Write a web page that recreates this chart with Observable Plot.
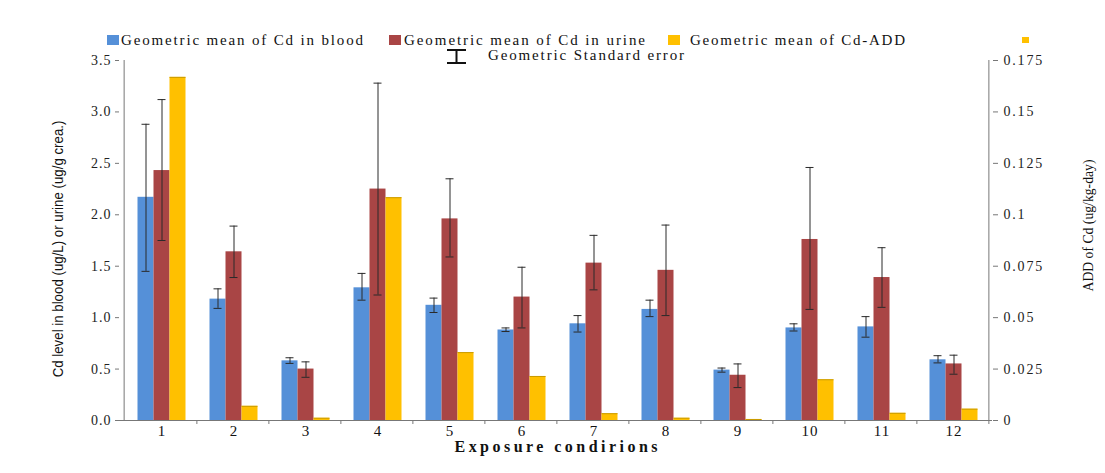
<!DOCTYPE html>
<html>
<head>
<meta charset="utf-8">
<script src="https://cdn.jsdelivr.net/npm/d3@7"></script>
<script src="https://cdn.jsdelivr.net/npm/@observablehq/plot@0.6"></script>
<style>
  html, body { margin: 0; padding: 0; background: #fff; }
  #wrap { position: relative; width: 1105px; height: 473px; }
</style>
</head>
<body>
<div id="wrap"></div>
<script>
// ---- data ----
const conditions = ["1","2","3","4","5","6","7","8","9","10","11","12"];
const blood   = [2.17, 1.18, 0.58, 1.29, 1.12, 0.88, 0.94, 1.08, 0.49, 0.90, 0.91, 0.59];
const bloodLo = [1.45, 1.09, 0.555, 1.17, 1.05, 0.865, 0.86, 1.01, 0.47, 0.87, 0.81, 0.56];
const bloodHi = [2.88, 1.28, 0.61, 1.43, 1.19, 0.90, 1.02, 1.17, 0.51, 0.94, 1.01, 0.63];
const urine   = [2.43, 1.64, 0.50, 2.25, 1.96, 1.20, 1.53, 1.46, 0.44, 1.76, 1.39, 0.55];
const urineLo = [1.75, 1.39, 0.42, 1.22, 1.59, 0.90, 1.27, 1.02, 0.32, 1.08, 1.10, 0.45];
const urineHi = [3.12, 1.89, 0.57, 3.28, 2.35, 1.49, 1.80, 1.90, 0.55, 2.46, 1.68, 0.635];
const addCd   = [0.1668, 0.0069, 0.0011, 0.1083, 0.0330, 0.0214, 0.0033, 0.0011, 0.0005, 0.0198, 0.0035, 0.0055];
const leftTicks  = [0, 0.5, 1.0, 1.5, 2.0, 2.5, 3.0, 3.5];
const rightTickLabels = ["0", "0.025", "0.05", "0.075", "0.1", "0.125", "0.15", "0.175"];
const seriesNames = ["Geometric mean of Cd in blood", "Geometric mean of Cd in urine", "Geometric mean of Cd-ADD"];
const errorLabel = "Geometric Standard error";
const xTitle = "Exposure condirions";
const yTitleLeft = "Cd level in blood (ug/L) or urine (ug/g crea.)";
const yTitleRight = "ADD of Cd (ug/kg-day)";
const colors = ["#5590d8", "#a94545", "#ffc000"];

// right axis max (0.175) corresponds to left axis max (3.5)
const addRatio = 3.5 / 0.175;

const rows = conditions.map((c, i) => ({
  c, blood: blood[i], bloodLo: bloodLo[i], bloodHi: bloodHi[i],
  urine: urine[i], urineLo: urineLo[i], urineHi: urineHi[i],
  add: addCd[i] * addRatio
}));

const W = 1105, H = 473, mL = 119, mR = 113, mT = 60, mB = 53;
const step = (W - mL - mR) / conditions.length;
const bw = 16;
const pin = 1 - bw / step;
const off = 1.5;
const serif = "'Liberation Serif', 'DejaVu Serif', serif";
const sans = "'Liberation Sans', Arial, sans-serif";
const errColor = "#2a2a2a";

const chart = Plot.plot({
  width: W, height: H,
  marginLeft: mL, marginRight: mR, marginTop: mT, marginBottom: mB,
  style: { fontFamily: serif, fontSize: "14px", color: "#111", background: "#fff" },
  x: { domain: conditions, paddingInner: pin, paddingOuter: pin / 2, axis: null, label: null },
  y: { domain: [0, 3.5], axis: null, label: null },
  marks: [
    Plot.barY(rows, { x: "c", y: "blood", fill: colors[0], dx: -bw + off }),
    Plot.barY(rows, { x: "c", y: "urine", fill: colors[1], dx: off }),
    Plot.barY(rows, { x: "c", y: "add", fill: colors[2], dx: bw + off }),
    Plot.tickY(rows, { x: "c", y: "add", stroke: "#c99a00", dx: bw + off, strokeWidth: 1 }),
    // error bars
    Plot.ruleX(rows, { x: "c", y1: "bloodLo", y2: "bloodHi", stroke: errColor, dx: -bw + off }),
    Plot.tickY(rows, { x: "c", y: "bloodHi", stroke: errColor, dx: -bw + off, insetLeft: 4, insetRight: 4 }),
    Plot.tickY(rows, { x: "c", y: "bloodLo", stroke: errColor, dx: -bw + off, insetLeft: 4, insetRight: 4 }),
    Plot.ruleX(rows, { x: "c", y1: "urineLo", y2: "urineHi", stroke: errColor, dx: off }),
    Plot.tickY(rows, { x: "c", y: "urineHi", stroke: errColor, dx: off, insetLeft: 4, insetRight: 4 }),
    Plot.tickY(rows, { x: "c", y: "urineLo", stroke: errColor, dx: off, insetLeft: 4, insetRight: 4 }),
    // axis lines
    Plot.ruleY([0], { stroke: "#777" }),
    Plot.ruleX([conditions[0]], { x: d => d, y1: () => 0, y2: () => 3.5, dx: -step / 2, stroke: "#777" }),
    Plot.ruleX([conditions[conditions.length - 1]], { x: d => d, y1: () => 0, y2: () => 3.5, dx: step / 2, stroke: "#777" }),
    // group boundary ticks on x axis
    Plot.ruleX(conditions, { x: d => d, y1: () => 0, y2: () => 0, insetBottom: -4, dx: step / 2, stroke: "#777" }),
    // axes
    Plot.axisX({ tickSize: 0, tickPadding: 5, fontSize: 15, fill: "#111", dx: off, label: null }),
    Plot.axisY({ anchor: "left", ticks: leftTicks, tickFormat: d3.format(".1f"), tickSize: 4, tickPadding: 4, stroke: "#777", fill: "#222", fontSize: 14, label: null }),
    Plot.axisY({ anchor: "right", ticks: leftTicks, tickFormat: d => rightTickLabels[leftTicks.indexOf(d)], tickSize: 5, tickPadding: 6, stroke: "#777", fill: "#222", fontSize: 14, label: null }),
    // axis titles
    Plot.text([yTitleLeft], { frameAnchor: "left", textAnchor: "middle", rotate: -90, dx: -61, dy: 8.5, fontSize: 15, fontFamily: sans, fill: "#111" }),
    Plot.text([yTitleRight], { frameAnchor: "right", textAnchor: "middle", rotate: -90, dx: 96, dy: -15, fontSize: 15, fontFamily: serif, fill: "#111" }),
    Plot.text([xTitle], { frameAnchor: "bottom", dy: 31, fontSize: 16, fontWeight: "bold", fontFamily: serif, fill: "#111" })
  ]
});

const wrap = document.getElementById("wrap");
wrap.appendChild(chart);
chart.style.position = "absolute";
chart.style.left = "0px";
chart.style.top = "0px";

// fonts and spacing, matching the original rendering
const svg = d3.select(chart);
const byText = t => svg.selectAll("text").filter(function () { return this.textContent === t; });
svg.selectAll("text").filter(function () { return this.textContent !== yTitleLeft; })
  .style("font-family", serif);
byText(yTitleLeft).style("font-family", sans);
svg.selectAll("text").filter(function () {
  const t = this.textContent;
  return leftTicks.map(d => d3.format(".1f")(d)).includes(t) || conditions.includes(t);
}).style("letter-spacing", "1px");
svg.selectAll("text").filter(function () { return rightTickLabels.includes(this.textContent); })
  .style("letter-spacing", "1.8px");
// compress the rotated titles to the narrow look of the original
function squeeze(t, target) {
  byText(t).each(function () {
    const len = this.getComputedTextLength();
    const k = target / len;
    const tr = this.getAttribute("transform") || "";
    this.setAttribute("transform", tr + ` scale(${k},1)`);
  });
}
squeeze(yTitleLeft, 257);
squeeze(yTitleRight, 132);
byText(xTitle).attr("textLength", 203).attr("lengthAdjust", "spacing");

// ---- legend (SVG overlay, real text) ----
const lg = d3.select(wrap).append("svg")
  .attr("width", W).attr("height", 70)
  .style("position", "absolute").style("left", "0px").style("top", "0px")
  .style("font-family", serif);
const swX = [107, 389, 668];
const txX = [121, 404, 690];
const txLen = [242, 241, 215];
seriesNames.forEach((n, i) => {
  lg.append("rect").attr("x", swX[i]).attr("y", 35).attr("width", 12).attr("height", 10).attr("fill", colors[i]);
  lg.append("text").attr("x", txX[i]).attr("y", 45).attr("font-size", 15).attr("fill", "#111")
    .attr("textLength", txLen[i]).attr("lengthAdjust", "spacing").text(n);
});
lg.append("rect").attr("x", 1022).attr("y", 37).attr("width", 7).attr("height", 6).attr("fill", colors[2]);
lg.append("path").attr("d", "M447 50H466M456.5 50V63M447 63H466").attr("stroke", "#111").attr("stroke-width", 2).attr("fill", "none");
lg.append("text").attr("x", 488).attr("y", 60).attr("font-size", 15).attr("fill", "#111")
  .attr("textLength", 196).attr("lengthAdjust", "spacing").text(errorLabel);
</script>
</body>
</html>
